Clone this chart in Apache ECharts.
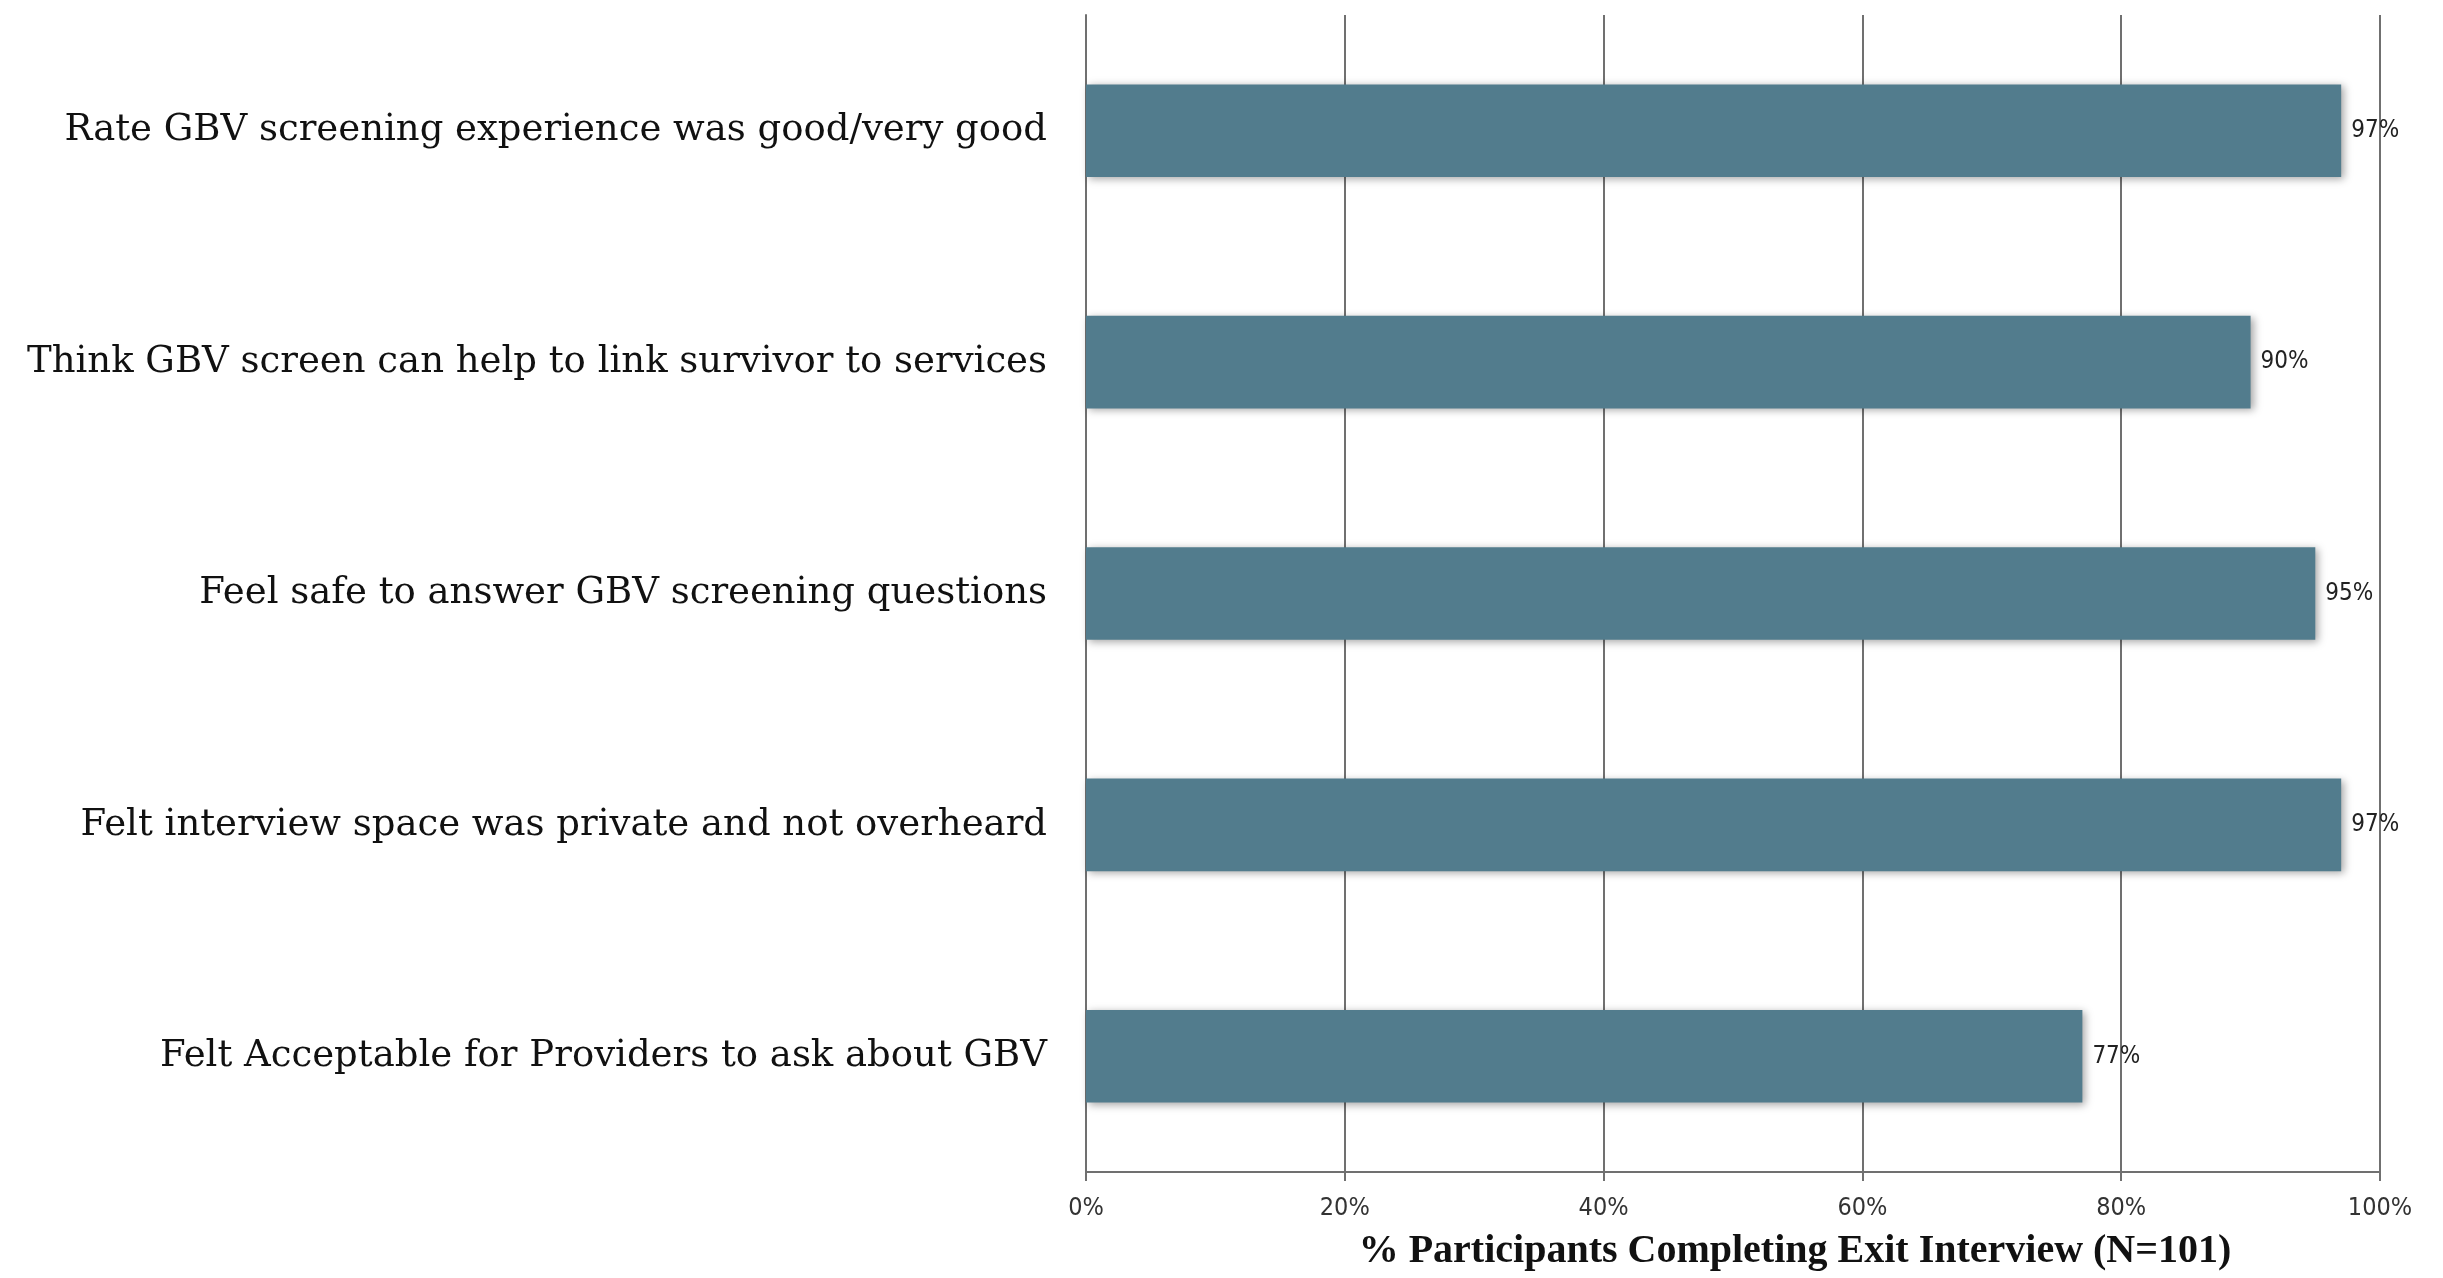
<!DOCTYPE html>
<html>
<head>
<meta charset="utf-8">
<script src="https://cdn.jsdelivr.net/npm/echarts@6/dist/echarts.min.js"></script>
<style>html,body{margin:0;padding:0;background:#fff}#chart{width:2443px;height:1278px}</style>
</head>
<body>
<div id="chart"></div>
<script>
// Categories listed bottom-to-top (ECharts category axis on y starts at bottom)
var categories = [
  "Felt Acceptable for Providers to ask about GBV",
  "Felt interview space was private and not overheard",
  "Feel safe to answer GBV screening questions",
  "Think GBV screen can help to link survivor to services",
  "Rate GBV screening experience was good/very good"
];
var values = [77, 97, 95, 90, 97];
var xTicks = [0, 20, 40, 60, 80, 100];
var xAxisTitle = "% Participants Completing Exit Interview (N=101)";

var chart = echarts.init(document.getElementById('chart'), null, {renderer: 'canvas'});
var gridColor = '#707070';
chart.setOption({
  backgroundColor: '#ffffff',
  animation: false,
  grid: {left: 1086, right: 63, top: 15, bottom: 106, containLabel: false},
  xAxis: {
    type: 'value', min: xTicks[0], max: xTicks[xTicks.length - 1], interval: 20,
    axisLine: {show: true, lineStyle: {color: gridColor, width: 2}},
    axisTick: {show: true, length: 9, lineStyle: {color: gridColor, width: 2}},
    splitLine: {show: true, lineStyle: {color: gridColor, width: 2}},
    axisLabel: {formatter: '{value}%', fontSize: 25, color: '#333', margin: 24, fontFamily: 'DejaVu Sans Condensed, DejaVu Sans'},
    name: xAxisTitle, nameLocation: 'middle', nameGap: 60,
    nameTextStyle: {fontFamily: 'Liberation Serif', fontWeight: 'bold', fontSize: 40, color: '#111', padding: [0, 0, 0, 124]}
  },
  yAxis: {
    type: 'category', data: categories,
    axisLine: {show: true, lineStyle: {color: gridColor, width: 2}},
    axisTick: {show: false},
    axisLabel: {fontFamily: 'DejaVu Serif', fontSize: 37, color: '#111', margin: 39}
  },
  series: [{
    type: 'bar', data: values, barCategoryGap: '60%',
    itemStyle: {color: '#527c8d', shadowBlur: 8, shadowOffsetX: 3, shadowOffsetY: 2, shadowColor: 'rgba(0,0,0,0.35)'},
    label: {show: true, position: 'right', distance: 10, formatter: '{c}%', fontSize: 24, color: '#222', fontFamily: 'DejaVu Sans Condensed, DejaVu Sans'}
  }]
});
</script>
</body>
</html>
